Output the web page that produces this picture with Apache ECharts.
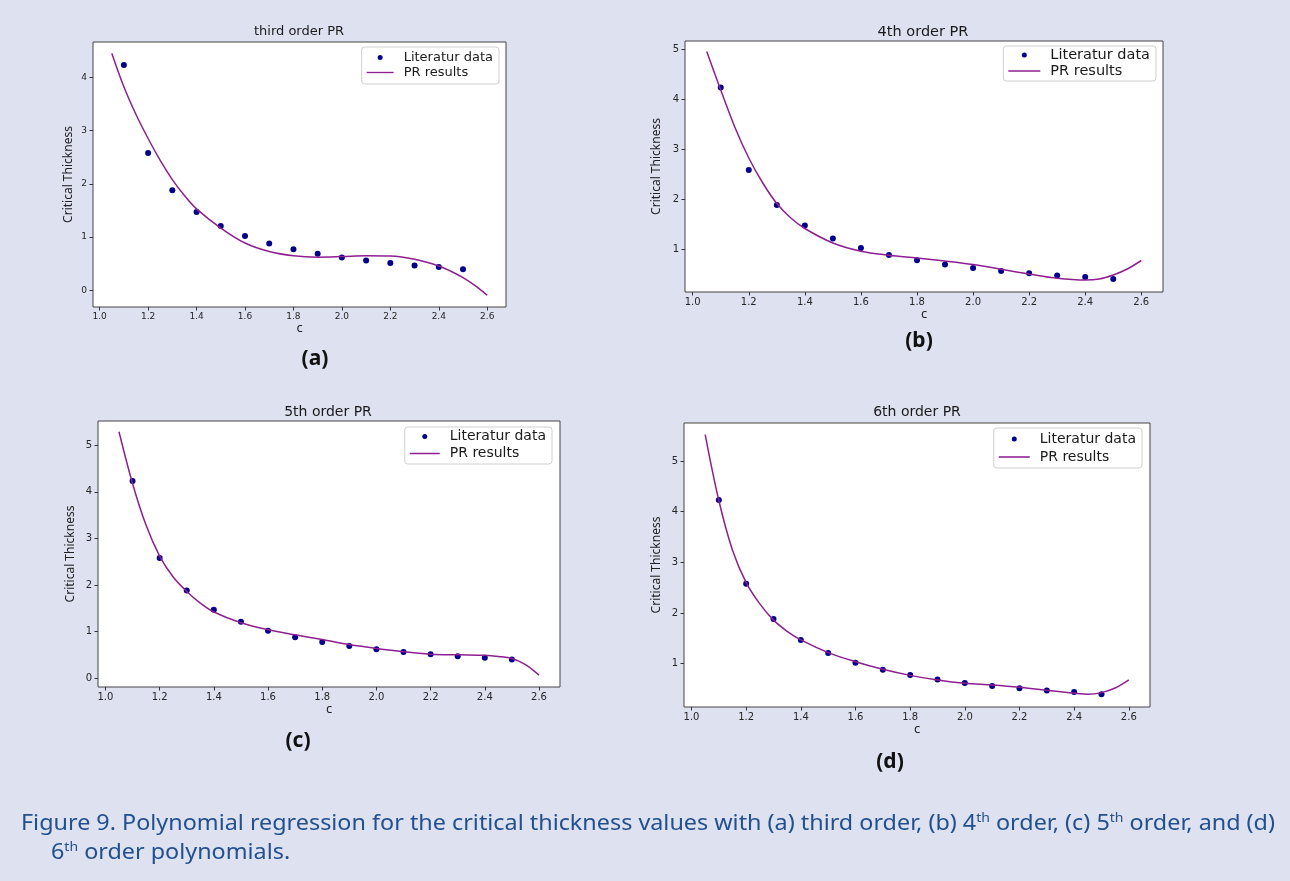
<!DOCTYPE html>
<html>
<head>
<meta charset="utf-8">
<title>Figure 9 - Polynomial regression</title>
<script src="https://cdn.jsdelivr.net/npm/echarts@6/dist/echarts.min.js"></script>
<style>
  html, body { margin: 0; padding: 0; background: #dde1f0; }
  #wrap { position: relative; width: 1290px; height: 881px; overflow: hidden; }
  #chart { width: 1290px; height: 881px; }
  .cap {
    position: absolute; white-space: nowrap;
    font-family: "Liberation Sans Narrow", "Noto Sans", sans-serif;
    font-size: 22px; line-height: 29px; color: #22508f;
    transform-origin: 0 0;
  }
  .cap sup { font-size: 0.6em; line-height: 0; vertical-align: 0.6em; }
</style>
</head>
<body>
<div id="wrap">
  <div id="chart"></div>
  <div class="cap" id="cap1" style="left:21px; top:807px">Figure 9. Polynomial regression for the critical thickness values with (a) third order, (b) 4<sup>th</sup> order, (c) 5<sup>th</sup> order, and (d)</div>
  <div class="cap" id="cap2" style="left:51px; top:836px">6<sup>th</sup> order polynomials.</div>
</div>
<script>
  // literature points (same in all four panels)
  const cValues = [1.1, 1.2, 1.3, 1.4, 1.5, 1.6, 1.7, 1.8, 1.9, 2.0, 2.1, 2.2, 2.3, 2.4, 2.5]
  const literaturData = [4.23, 2.58, 1.88, 1.47, 1.21, 1.02, 0.88, 0.775, 0.69, 0.62, 0.56, 0.515, 0.47, 0.44, 0.40]

  // PR curves
  const fitC = [1.05, 1.1, 1.15, 1.2, 1.25, 1.3, 1.35, 1.4, 1.5, 1.6, 1.7, 1.8, 1.9, 2.0, 2.1, 2.2, 2.3, 2.4, 2.45, 2.5, 2.55, 2.6]
  const fitThird = [4.45, 3.82, 3.30, 2.85, 2.44, 2.08, 1.78, 1.53, 1.17, 0.89, 0.73, 0.65, 0.625, 0.635, 0.65, 0.645, 0.585, 0.46, 0.36, 0.24, 0.09, -0.09]
  const fitFourth = [4.95, 4.18, 3.44, 2.82, 2.32, 1.91, 1.62, 1.41, 1.12, 0.955, 0.875, 0.82, 0.76, 0.69, 0.595, 0.50, 0.415, 0.38, 0.40, 0.48, 0.60, 0.77]
  const fitFifth = [5.29, 4.18, 3.28, 2.62, 2.17, 1.86, 1.61, 1.42, 1.19, 1.04, 0.93, 0.83, 0.72, 0.635, 0.565, 0.515, 0.50, 0.49, 0.465, 0.42, 0.29, 0.065]
  const fitSixth = [5.52, 4.22, 3.24, 2.60, 2.18, 1.86, 1.64, 1.47, 1.22, 1.04, 0.89, 0.77, 0.68, 0.615, 0.58, 0.535, 0.475, 0.42, 0.40, 0.43, 0.52, 0.68]

  const xTicks = [1.0, 1.2, 1.4, 1.6, 1.8, 2.0, 2.2, 2.4, 2.6]
  const yTicksA = [0, 1, 2, 3, 4]
  const yTicksB = [1, 2, 3, 4, 5]
  const yTicksC = [0, 1, 2, 3, 4, 5]
  const yTicksD = [1, 2, 3, 4, 5]

  const panelTitles = ["third order PR", "4th order PR", "5th order PR", "6th order PR"]
  const panelTags = ["(a)", "(b)", "(c)", "(d)"]
  const fits = [fitThird, fitFourth, fitFifth, fitSixth]
  const yTicks = [yTicksA, yTicksB, yTicksC, yTicksD]

  // layout of every panel (pixels)
  const panels = [
    {box: [93, 42, 413, 265], y: [-0.31, 4.66], title: [299, 32], tag: [315, 359], tf: 13, tick: 9,
      lg: {right: 791, top: 47, iw: 27, fs: 13, lh: 15, pad: [3, 6, 4, 5]}, gapY: 18, gapX: 15},
    {box: [685, 41, 478, 251], y: [0.14, 5.16], title: [923, 32], tag: [919, 341], tf: 14.5, tick: 10,
      lg: {right: 134, top: 46, iw: 32, fs: 14.5, lh: 16, pad: [1, 6, 2, 5]}, gapY: 22, gapX: 13},
    {box: [98, 421, 462, 266], y: [-0.19, 5.52], title: [328, 412], tag: [298, 741], tf: 14, tick: 10,
      lg: {right: 738, top: 427, iw: 30, fs: 14, lh: 17, pad: [1, 6, 2, 5]}, gapY: 21, gapX: 15},
    {box: [684, 423, 466, 284], y: [0.146, 5.75], title: [917, 412], tag: [890, 762], tf: 14, tick: 10,
      lg: {right: 148, top: 428, iw: 31, fs: 14, lh: 18, pad: [2, 6, 2, 5]}, gapY: 21, gapX: 16}
  ]

  const lineColor = "#8e1f91"
  const dotColor = "#00008b"

  let grid = [], xAxis = [], yAxis = [], series = [], legend = [], graphic = []

  panels.forEach((p, i) => {
    grid.push({
      left: p.box[0], top: p.box[1], width: p.box[2], height: p.box[3],
      show: true, backgroundColor: "#fff", borderColor: "#444", borderWidth: 1,
      outerBoundsMode: "none"
    })
    xAxis.push({
      type: "value", gridIndex: i, min: 0.9725, max: 2.6775,
      name: "c", nameLocation: "middle", nameGap: p.gapX,
      nameTextStyle: {fontFamily: "Noto Sans", fontSize: 13, color: "#222"},
      axisLine: {show: false, onZero: false},
      axisTick: {show: true, length: 3.5, customValues: xTicks, lineStyle: {color: "#333"}},
      axisLabel: {customValues: xTicks, formatter: v => v.toFixed(1), margin: 5,
        fontFamily: "DejaVu Sans", fontSize: p.tick, color: "#262626"},
      splitLine: {show: false}
    })
    yAxis.push({
      type: "value", gridIndex: i, min: p.y[0], max: p.y[1],
      name: "Critical Thickness", nameLocation: "middle", nameGap: p.gapY,
      nameTextStyle: {fontFamily: "Noto Sans", fontSize: 12, color: "#222"},
      axisLine: {show: false, onZero: false},
      axisTick: {show: true, length: 3.5, customValues: yTicks[i], lineStyle: {color: "#333"}},
      axisLabel: {customValues: yTicks[i], margin: 6,
        fontFamily: "DejaVu Sans", fontSize: p.tick, color: "#262626"},
      splitLine: {show: false}
    })
    series.push({
      name: "Literatur data", type: "scatter", xAxisIndex: i, yAxisIndex: i,
      data: cValues.map((c, k) => [c, literaturData[k]]),
      symbolSize: 6, itemStyle: {color: dotColor, opacity: 1}, z: 2
    })
    series.push({
      name: "PR results", type: "line", xAxisIndex: i, yAxisIndex: i,
      data: fitC.map((c, k) => [c, fits[i][k]]),
      symbol: "none", showSymbol: false, smooth: 0.35,
      lineStyle: {color: lineColor, width: 1.5}, itemStyle: {color: lineColor}, z: 3
    })
    legend.push({
      orient: "vertical", right: p.lg.right, top: p.lg.top,
      data: [
        {name: "Literatur data", icon: "circle"},
        {name: "PR results", icon: "path://M0,0H30V1.5H0Z"}
      ],
      selectedMode: false,
      itemWidth: p.lg.iw, itemHeight: 5, itemGap: 0, padding: p.lg.pad,
      backgroundColor: "#fff", borderColor: "#cfcfcf", borderWidth: 1, borderRadius: 3,
      textStyle: {fontFamily: "DejaVu Sans", fontSize: p.lg.fs, color: "#1a1a1a",
        lineHeight: p.lg.lh, padding: [0, 0, 0, 5]}
    })
    graphic.push({
      type: "text", x: p.title[0], y: p.title[1],
      style: {text: panelTitles[i], align: "center", verticalAlign: "middle",
        font: p.tf + "px 'DejaVu Sans'", fill: "#1a1a1a"}
    })
    graphic.push({
      type: "text", x: p.tag[0], y: p.tag[1],
      style: {text: panelTags[i], align: "center", verticalAlign: "middle",
        font: "bold 21px 'Noto Sans'", fill: "#111"}
    })
  })

  let myChart = echarts.init(document.getElementById("chart"))
  myChart.setOption({
    backgroundColor: "#dde1f0",
    animation: false,
    grid: grid,
    xAxis: xAxis,
    yAxis: yAxis,
    legend: legend,
    graphic: graphic,
    series: series
  })

  // squeeze the caption to the width of the original line
  function fitCaption() {
    let cap1 = document.getElementById("cap1")
    let cap2 = document.getElementById("cap2")
    let s = 1254 / cap1.getBoundingClientRect().width
    cap1.style.transform = "scaleX(" + s + ")"
    cap2.style.transform = "scaleX(" + s + ")"
  }
  if (document.fonts && document.fonts.ready) {
    document.fonts.ready.then(fitCaption)
  } else {
    fitCaption()
  }
</script>
</body>
</html>
